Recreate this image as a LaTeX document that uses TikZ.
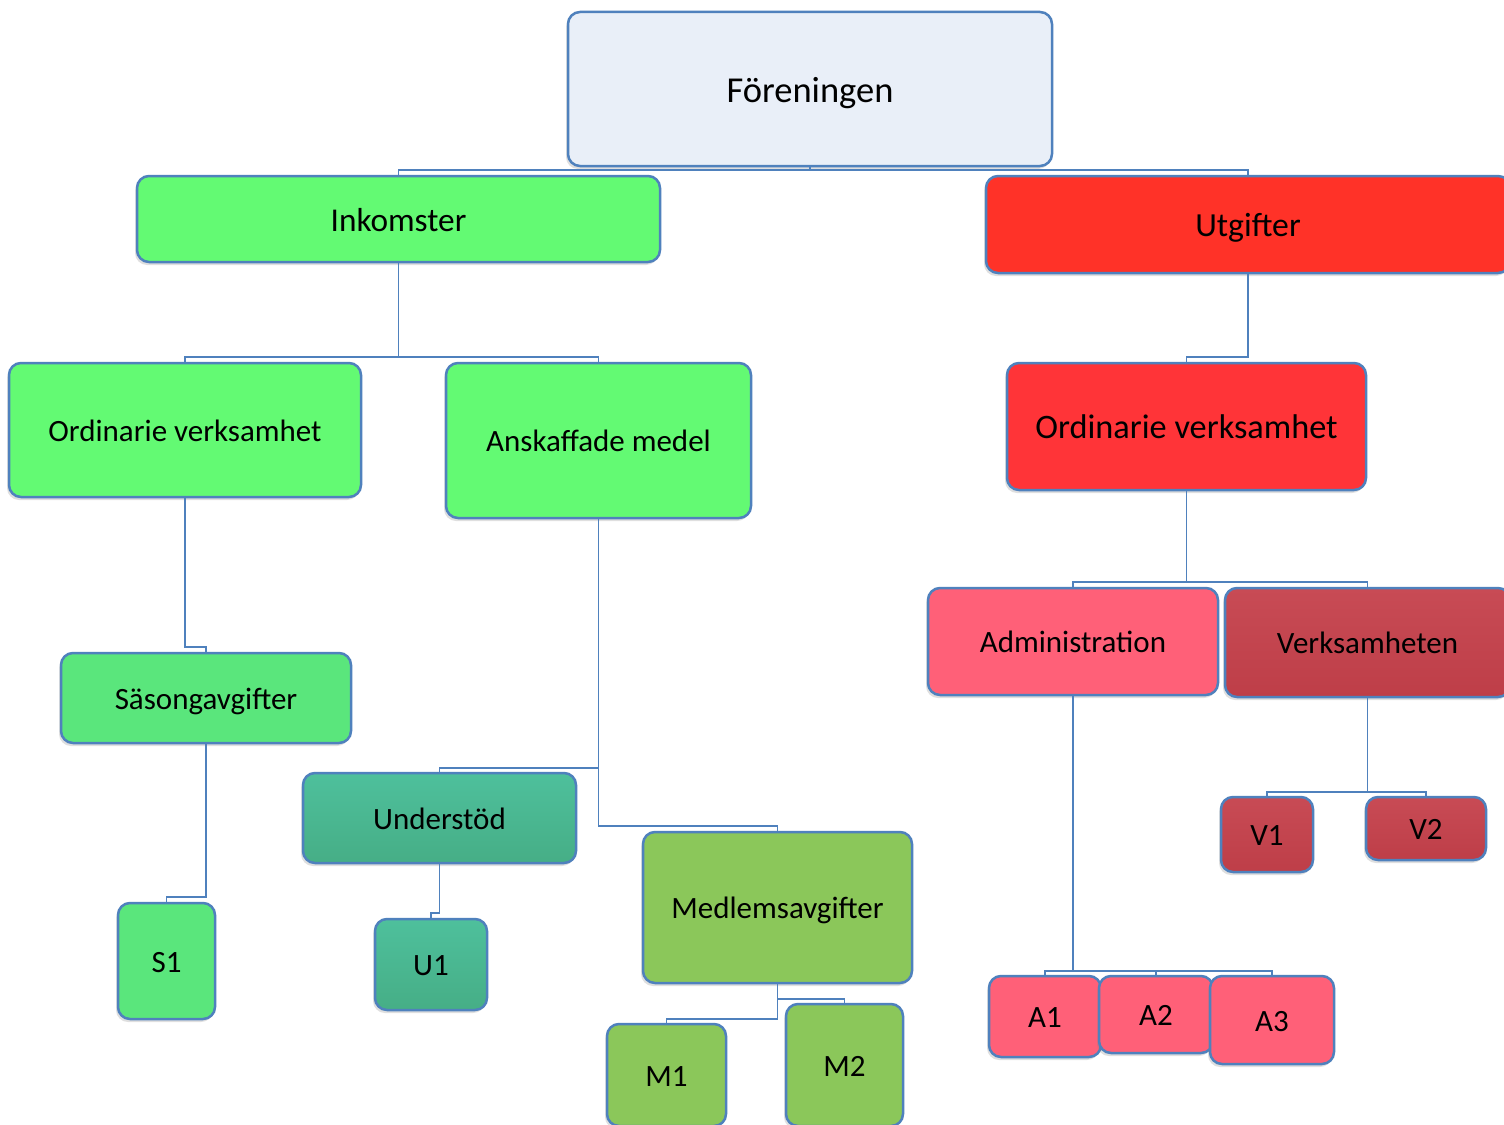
\documentclass[tikz,border=0pt]{standalone}
\usepackage{fontspec}
\setmainfont{Carlito}
\usetikzlibrary{shadows}
\definecolor{lineblue}{HTML}{4F81BD}
\definecolor{rootblue}{HTML}{E9EFF8}
\definecolor{ingreen}{HTML}{63FA73}
\definecolor{sasgreen}{HTML}{5AE67C}
\definecolor{tealtop}{HTML}{4EC09C}
\definecolor{tealbot}{HTML}{46AE86}
\definecolor{olive}{HTML}{8BC75A}
\definecolor{outred}{HTML}{FF3228}
\definecolor{ordred}{HTML}{FF3438}
\definecolor{adminpink}{HTML}{FF6078}
\definecolor{verktop}{HTML}{C84B55}
\definecolor{verkbot}{HTML}{BE3E48}
\tikzset{
  orgbox/.style={draw=lineblue, line width=2.5pt, rounded corners=12pt,
    inner sep=0pt, text=black, text height=22pt, text depth=0pt,
    font=\fontsize{31}{36}\selectfont,
    drop shadow={shadow xshift=-2pt, shadow yshift=-3pt, opacity=0.25}},
  link/.style={draw=lineblue, line width=1.5pt}
}
\begin{document}
\begin{tikzpicture}[x=1pt, y=-1pt]
      \fill[white] (0,0) rectangle (1504,1124);
      \useasboundingbox (0,0) rectangle (1504,1124);
      \node[orgbox, fill=rootblue, minimum width=484pt, minimum height=154pt,
        font=\fontsize{36.5}{42}\selectfont, text height=26pt] (forening) at (810,89) {Föreningen};
      \node[orgbox, fill=ingreen, minimum width=523pt, minimum height=86pt,
        font=\fontsize{33.3}{38}\selectfont, text height=24pt] (inkomster) at (398.5,219) {Inkomster};
      \node[orgbox, fill=outred, minimum width=524pt, minimum height=97pt,
        font=\fontsize{33.7}{38}\selectfont, text height=24pt] (utgifter) at (1248,224.5) {Utgifter};
      \node[orgbox, fill=ingreen, minimum width=352pt, minimum height=134pt] (ordL) at (185,430) {Ordinarie verksamhet};
      \node[orgbox, fill=ingreen, minimum width=305pt, minimum height=155pt] (anskaffade) at (598.5,440.5) {Anskaffade medel};
      \node[orgbox, fill=ordred, minimum width=359pt, minimum height=127pt,
        font=\fontsize{34.3}{40}\selectfont, text height=24pt] (ordR) at (1186.5,426.5) {Ordinarie verksamhet};
      \node[orgbox, fill=adminpink, minimum width=290pt, minimum height=107pt] (admin) at (1073,641.5) {Administration};
      \node[orgbox, top color=verktop, bottom color=verkbot, minimum width=285pt, minimum height=109pt] (verks) at (1367.5,642.5) {Verksamheten};
      \node[orgbox, top color=verktop, bottom color=verkbot, minimum width=92pt, minimum height=75pt] (v1) at (1267,834.5) {V1};
      \node[orgbox, top color=verktop, bottom color=verkbot, minimum width=120pt, minimum height=63pt] (v2) at (1426,828.5) {V2};
      \node[orgbox, fill=sasgreen, minimum width=290pt, minimum height=90pt] (sasong) at (206,698) {Säsongavgifter};
      \node[orgbox, fill=sasgreen, minimum width=97pt, minimum height=116pt] (s1) at (166.5,961) {S1};
      \node[orgbox, top color=tealtop, bottom color=tealbot, minimum width=273pt, minimum height=90pt] (understod) at (439.5,818) {Understöd};
      \node[orgbox, top color=tealtop, bottom color=tealbot, minimum width=112pt, minimum height=91pt] (u1) at (431,964.5) {U1};
      \node[orgbox, fill=olive, minimum width=269pt, minimum height=151pt] (medlem) at (777.5,907.5) {Medlemsavgifter};
      \node[orgbox, fill=olive, minimum width=119pt, minimum height=102pt] (m1) at (666.5,1075) {M1};
      \node[orgbox, fill=olive, minimum width=117pt, minimum height=122pt] (m2) at (844.5,1065) {M2};
      \node[orgbox, fill=adminpink, minimum width=112pt, minimum height=81pt] (a1) at (1045,1016.5) {A1};
      \node[orgbox, fill=adminpink, minimum width=114pt, minimum height=77pt] (a2) at (1156,1014.5) {A2};
      \node[orgbox, fill=adminpink, minimum width=124pt, minimum height=88pt] (a3) at (1272,1020) {A3};
      \begin{scope}[link]
        \draw (forening.south) |- ([yshift=5pt]inkomster.north) -- (inkomster.north);
        \draw (forening.south) |- ([yshift=5pt]utgifter.north) -- (utgifter.north);
        \draw (inkomster.south) |- ([yshift=5pt]ordL.north) -- (ordL.north);
        \draw (inkomster.south) |- ([yshift=5pt]anskaffade.north) -- (anskaffade.north);
        \draw (utgifter.south) |- ([yshift=5pt]ordR.north) -- (ordR.north);
        \draw (ordL.south) |- ([yshift=5pt]sasong.north) -- (sasong.north);
        \draw (sasong.south) |- ([yshift=5pt]s1.north) -- (s1.north);
        \draw (anskaffade.south) |- ([yshift=4pt]understod.north) -- (understod.north);
        \draw (anskaffade.south) |- ([yshift=5pt]medlem.north) -- (medlem.north);
        \draw (understod.south) |- ([yshift=5pt]u1.north) -- (u1.north);
        \draw (medlem.south) |- ([yshift=4pt]m1.north) -- (m1.north);
        \draw (medlem.south) |- ([yshift=4pt]m2.north) -- (m2.north);
        \draw (ordR.south) |- ([yshift=5pt]admin.north) -- (admin.north);
        \draw (ordR.south) |- ([yshift=5pt]verks.north) -- (verks.north);
        \draw (admin.south) |- ([yshift=4pt]a1.north) -- (a1.north);
        \draw (admin.south) |- ([yshift=4pt]a2.north) -- (a2.north);
        \draw (admin.south) |- ([yshift=4pt]a3.north) -- (a3.north);
        \draw (verks.south) |- ([yshift=4pt]v1.north) -- (v1.north);
        \draw (verks.south) |- ([yshift=4pt]v2.north) -- (v2.north);
      \end{scope}
\end{tikzpicture}
\end{document}
